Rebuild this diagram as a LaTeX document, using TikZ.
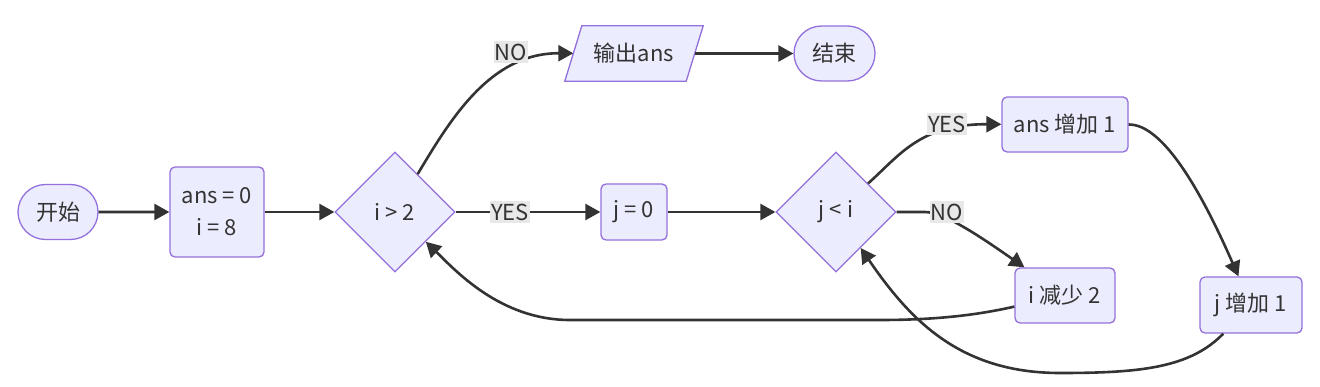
\documentclass[tikz,border=0pt]{standalone}
\usepackage{fontspec}
\setmainfont{Noto Sans CJK SC}
\usetikzlibrary{shapes.geometric,shapes.misc,arrows.meta,calc,backgrounds}
\definecolor{nodefill}{HTML}{ECECFF}
\definecolor{nodeline}{HTML}{9370DB}
\definecolor{edgecol}{HTML}{333333}
\definecolor{lblfill}{HTML}{E8E8E8}
\definecolor{txt}{HTML}{333333}
\begin{document}
\begin{tikzpicture}[x=1pt,y=-1pt,
  every node/.style={font=\fontsize{22}{32}\selectfont, text=txt},
  base/.style={draw=nodeline, fill=nodefill, line width=1.3pt, inner sep=0pt},
  term/.style={base, rounded rectangle, minimum width=80pt, minimum height=55pt},
  proc/.style={base, rectangle, rounded corners=5pt, minimum height=55pt, align=center},
  cond/.style={base, diamond, aspect=1, minimum width=120pt, minimum height=120pt},
  iotext/.style={inner sep=0pt, minimum width=121pt, minimum height=55pt},
  flow/.style={draw=edgecol, line width=2.6pt, -{Triangle[length=15pt,width=16pt]}},
  lbl/.style={fill=lblfill, inner xsep=1pt, inner ysep=3pt}
]
\useasboundingbox (0,0) rectangle (1320,387);

% nodes
\node[term] (start) at (58,212) {开始};
\node[proc, minimum width=94pt, minimum height=90pt] (init) at (217,212) {ans = 0\\i = 8};
\node[cond] (d1) at (395,212) {i > 2};
\node[proc, minimum width=66pt, minimum height=56pt] (j0) at (634,212) {j = 0};
\node[cond] (d2) at (836,212) {j < i};
\node[iotext] (out) at (634,53.5) {输出ans};
\begin{scope}[on background layer]
  \draw[base] ($(out.south west)+(-8.5,0)$) -- ($(out.north west)+(8.5,0)$)
    -- ($(out.north east)+(8.5,0)$) -- ($(out.south east)+(-8.5,0)$) -- cycle;
\end{scope}
\node[term, minimum width=81pt] (end) at (834.5,53.5) {结束};
\node[proc, minimum width=126pt] (inc) at (1065,124.5) {ans 增加 1};
\node[proc, minimum width=100pt] (dec) at (1065,295.5) {i 减少 2};
\node[proc, minimum width=102pt, minimum height=56pt] (jinc) at (1251,305) {j 增加 1};

% connectors
\draw[flow] (start) -- (init);
\draw[flow] (init) -- (d1);
\draw[flow] (d1) -- (j0) node[lbl] (lyes1) at (510,212) {YES};
\draw[flow] (j0) -- (d2);
\draw[flow] (d1) .. controls (450,120) and (490,53) .. (out)
  node[lbl] (lno1) at (511,52) {NO};
\draw[flow] (out) -- (end);
\draw[flow] (d2) .. controls (900,155) and (920,124) .. (inc)
  node[lbl] (lyes2) at (947,124) {YES};
\draw[flow] (d2.east) -- (925,212) .. controls (945,212) and (985,240) .. (dec)
  node[lbl] (lno2) at (947,212) {NO};
\draw[flow] (inc.east) .. controls (1165,124) and (1205,200) .. (jinc);
\draw[flow] (jinc) .. controls (1190,368) and (1140,373) .. (1060,373)
  .. controls (960,373) and (910,320) .. (d2);
\draw[flow] (dec) .. controls (990,312) and (950,320) .. (880,320) -- (570,320)
  .. controls (500,320) and (455,270) .. (d1);
\end{tikzpicture}
\end{document}
